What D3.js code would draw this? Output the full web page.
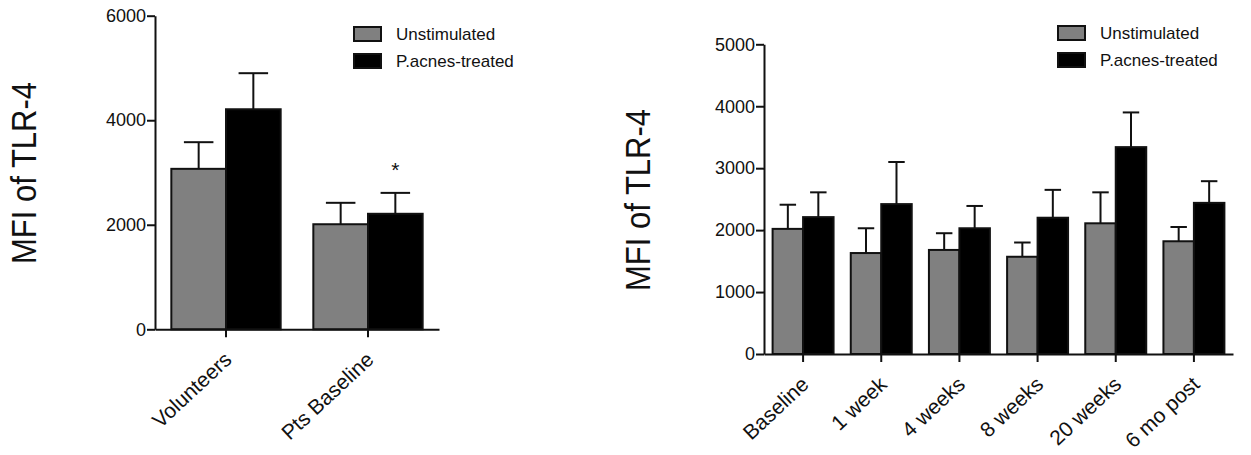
<!DOCTYPE html>
<html>
<head>
<meta charset="utf-8">
<script src="https://cdn.jsdelivr.net/npm/d3@7"></script>
<style>
  body { margin: 0; background: #fff; }
  svg text { font-family: Arial, "Liberation Sans", sans-serif; fill: #111; }
</style>
</head>
<body>
<script>
// series names
var seriesNames = ["Unstimulated", "P.acnes-treated"];

// left panel: volunteers vs patients at baseline
var groupsA = ["Volunteers", "Pts Baseline"];
var unstimA = [3070, 2010];
var unstimErrA = [510, 410];
var treatedA = [4210, 2210];
var treatedErrA = [690, 400];
var ticksA = [0, 2000, 4000, 6000];

// right panel: patients over time
var groupsB = ["Baseline", "1 week", "4 weeks", "8 weeks", "20 weeks", "6 mo post"];
var unstimB = [2020, 1630, 1680, 1570, 2110, 1820];
var unstimErrB = [390, 400, 270, 230, 500, 230];
var treatedB = [2210, 2420, 2030, 2200, 3340, 2440];
var treatedErrB = [400, 680, 360, 450, 560, 350];
var ticksB = [0, 1000, 2000, 3000, 4000, 5000];

var fills = ["#808080", "#000000"];

var svg = d3.select("body").append("svg")
  .attr("width", 1251)
  .attr("height", 455);

function drawPanel(cfg) {
  var g = svg.append("g");

  var y = d3.scaleLinear()
    .domain([0, cfg.yMax])
    .range([cfg.y0, cfg.y1]);

  var x = d3.scaleBand()
    .domain(cfg.groups)
    .range([cfg.x0, cfg.x1])
    .paddingInner(cfg.pad)
    .paddingOuter(cfg.pad / 2);

  var sub = d3.scaleBand()
    .domain([0, 1])
    .range([0, x.bandwidth()]);

  // rows for bars
  var rows = [];
  cfg.groups.forEach(function(name, i) {
    rows.push({group: name, s: 0, v: cfg.unstim[i], e: cfg.unstimErr[i]});
    rows.push({group: name, s: 1, v: cfg.treated[i], e: cfg.treatedErr[i]});
  });

  // error bars (upper only) drawn first so bars sit over the stem
  var eb = g.append("g")
    .attr("stroke", "#111")
    .attr("stroke-width", 2);
  rows.forEach(function(d) {
    var cx = x(d.group) + sub(d.s) + sub.bandwidth() / 2;
    var cap = sub.bandwidth() * 0.27;
    eb.append("line")
      .attr("x1", cx).attr("x2", cx)
      .attr("y1", y(d.v)).attr("y2", y(d.v + d.e));
    eb.append("line")
      .attr("x1", cx - cap).attr("x2", cx + cap)
      .attr("y1", y(d.v + d.e)).attr("y2", y(d.v + d.e));
  });

  g.append("g").selectAll("rect")
    .data(rows)
    .join("rect")
      .attr("x", d => x(d.group) + sub(d.s))
      .attr("y", d => y(d.v))
      .attr("width", sub.bandwidth())
      .attr("height", d => y(0) - y(d.v))
      .attr("fill", d => fills[d.s])
      .attr("stroke", "#111")
      .attr("stroke-width", 2);

  // y axis
  var ya = g.append("g")
    .attr("transform", "translate(" + cfg.x0 + ",0)")
    .call(d3.axisLeft(y).tickValues(cfg.ticks).tickSize(8).tickSizeOuter(0).tickPadding(1).tickFormat(d3.format("d")));
  ya.select(".domain").attr("stroke", "#111").attr("stroke-width", 2);
  ya.selectAll(".tick line").attr("stroke", "#111").attr("stroke-width", 2);
  ya.selectAll(".tick text").attr("font-size", 18).attr("fill", "#111");

  // x axis
  var xa = g.append("g")
    .attr("transform", "translate(0," + cfg.y0 + ")")
    .call(d3.axisBottom(x).tickSize(8).tickSizeOuter(0));
  xa.select(".domain").attr("stroke", "#111").attr("stroke-width", 2);
  xa.selectAll(".tick line").attr("stroke", "#111").attr("stroke-width", 2);
  xa.selectAll(".tick text")
    .attr("font-size", 21)
    .attr("fill", "#111")
    .attr("text-anchor", "end")
    .attr("x", null).attr("y", null).attr("dy", null)
    .attr("transform", "translate(7,32) rotate(-43)");

  // axis title
  g.append("text")
    .attr("transform", "translate(" + cfg.titleX + "," + cfg.titleY + ") scale(1.12,1) rotate(-90)")
    .attr("text-anchor", "middle")
    .attr("dy", "0.35em")
    .attr("font-size", 31)
    .text("MFI of TLR-4");

  // legend
  seriesNames.forEach(function(name, i) {
    var ly = cfg.legY + i * 27;
    g.append("rect")
      .attr("x", cfg.legX).attr("y", ly - 7)
      .attr("width", 27).attr("height", 14)
      .attr("fill", fills[i])
      .attr("stroke", "#111").attr("stroke-width", 2);
    g.append("text")
      .attr("x", cfg.legX + 42).attr("y", ly)
      .attr("dy", "0.35em")
      .attr("font-size", 17)
      .text(name);
  });

  return {x: x, y: y, sub: sub, g: g};
}

var left = drawPanel({
  groups: groupsA, unstim: unstimA, unstimErr: unstimErrA,
  treated: treatedA, treatedErr: treatedErrA, ticks: ticksA,
  yMax: 6000, y0: 329.3, y1: 15.7, x0: 155, x1: 439, pad: 0.23,
  titleX: 24, titleY: 173, legX: 354, legY: 34
});

var right = drawPanel({
  groups: groupsB, unstim: unstimB, unstimErr: unstimErrB,
  treated: treatedB, treatedErr: treatedErrB, ticks: ticksB,
  yMax: 5000, y0: 354, y1: 44.3, x0: 764, x1: 1233, pad: 0.22,
  titleX: 638, titleY: 200, legX: 1058, legY: 33
});

// significance marker over patients' treated bar
left.g.append("text")
  .attr("x", left.x("Pts Baseline") + left.sub(1) + left.sub.bandwidth() / 2)
  .attr("y", left.y(treatedA[1] + treatedErrA[1]) - 16)
  .attr("text-anchor", "middle")
  .attr("font-size", 21)
  .text("*");
</script>
</body>
</html>
